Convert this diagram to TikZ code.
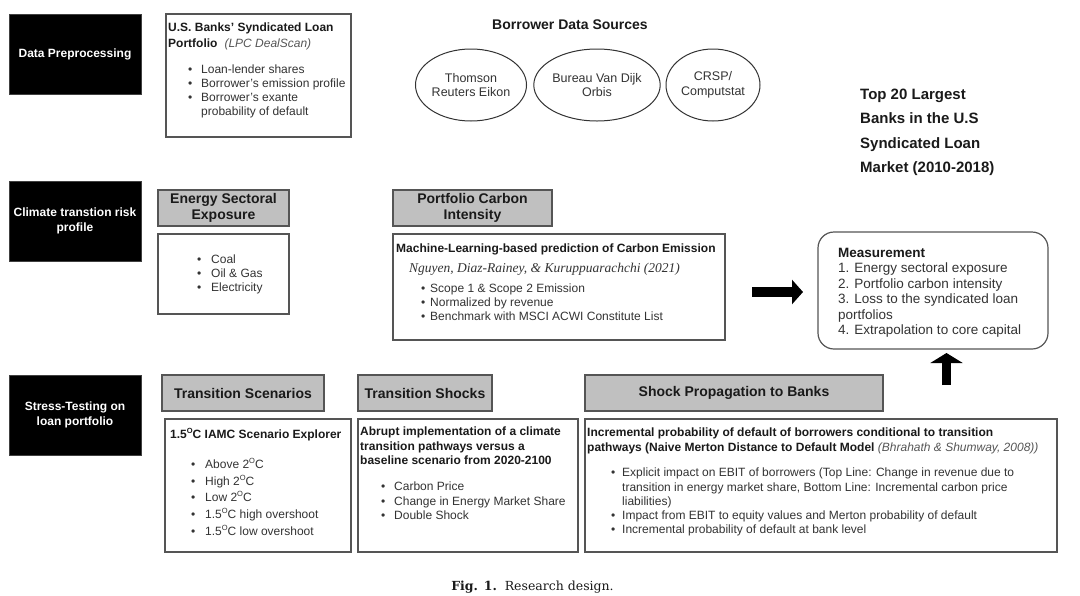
\documentclass[tikz,border=0pt]{standalone}
\usepackage{fontspec}
\setmainfont{Liberation Sans}
\newfontfamily\serifit{Liberation Serif}
\newfontfamily\capfont{DejaVu Serif}
\usetikzlibrary{shapes.geometric,arrows.meta}
\definecolor{bordc}{HTML}{555555}
\definecolor{grayfill}{HTML}{C0C0C0}
\definecolor{txt}{HTML}{333333}
\definecolor{ttl}{HTML}{1A1A1A}
\definecolor{itgray}{HTML}{555555}
\newcommand{\fs}[2]{\fontsize{#1}{#2}\selectfont}
\newcommand{\bi}[1]{\makebox[#1][l]{\textbullet}}
\newcommand{\bc}[1]{\hspace*{#1}}
\newcommand{\dgr}{\raisebox{0.42em}{\fontsize{7.5}{8}\selectfont O}}
\begin{document}
\begin{tikzpicture}[x=1pt,y=-1pt,
  blackbox/.style={fill=black, draw=black!75, line width=1pt, minimum width=132pt, minimum height=80pt, text=white, font=\bfseries\fs{12}{14.5}, align=center, inner sep=0pt},
  wbox/.style={draw=bordc, line width=1.2pt, fill=white, inner sep=0pt},
  gbox/.style={draw=bordc, line width=1.2pt, fill=grayfill, inner sep=0pt, font=\bfseries\fs{14}{16}, text=ttl, align=center},
  tnode/.style={inner sep=0pt, anchor=north west, align=left, text=txt, font=\fs{12}{14}},
  hnode/.style={inner sep=0pt, anchor=north west, align=left, text=ttl, font=\bfseries\fs{12}{14.5}},
  src/.style={ellipse, draw=black!80, line width=1pt, minimum width=94pt, minimum height=72pt, inner sep=0pt, align=center, font=\fs{12.5}{14.5}, text=txt},
  blockarrow/.style={line width=10pt, -{Triangle[width=24pt,length=11pt]}}
]
\useasboundingbox (0,0) rectangle (1080,595);
\fill[white] (0,0) rectangle (1080,595);

% row labels
\node[blackbox] (dp) at (75,54) {Data Preprocessing};
\node[blackbox] (ctr) at (75,221) {Climate transtion risk\\profile};
\node[blackbox] (st) at (75,415) {Stress-Testing on\\loan portfolio};

% US banks
\node[wbox, minimum width=185pt, minimum height=123pt] (usb) at (258.5,75.5) {};
\node[hnode, font=\bfseries\fs{12}{15.5}] (ust) at (168,23) {U.S. Banks' Syndicated Loan\\Portfolio\hspace{7pt}{\mdseries\itshape\color{itgray}(LPC DealScan)}};
\node[tnode] (usl) at (188,65) {\bi{13pt}Loan-lender shares\\\bi{13pt}Borrower's emission profile\\\bi{13pt}Borrower's exante\\\bc{13pt}probability of default};

% borrower data sources
\node[inner sep=0pt, anchor=base, font=\bfseries\fs{14}{16}, text=ttl] (bds) at (570,29) {Borrower Data Sources};
\node[src] (tre) at (471,85) {Thomson\\Reuters Eikon};
\node[src] (bvd) at (597,85) {Bureau Van Dijk\\Orbis};
\node[src] (crsp) at (713,85) {CRSP/\\Computstat};

% top 20
\node[inner sep=0pt, anchor=north west, align=left, text=ttl, font=\bfseries\fs{15}{24.3}] (top) at (860,89) {Top 20 Largest\\Banks in the U.S\\Syndicated Loan\\Market (2010-2018)};

% energy sectoral exposure
\node[gbox, minimum width=131pt, minimum height=36pt] (eseg) at (223.5,208) {Energy Sectoral\\Exposure};
\node[wbox, minimum width=131pt, minimum height=80pt] (eseb) at (223.5,274) {};
\node[tnode] (esel) at (197,255) {\bi{14pt}Coal\\\bi{14pt}Oil \& Gas\\\bi{14pt}Electricity};

% portfolio carbon intensity
\node[gbox, minimum width=159pt, minimum height=36pt] (pcig) at (472.5,208) {Portfolio Carbon\\Intensity};
\node[wbox, minimum width=332pt, minimum height=106pt] (pcib) at (559,287) {};
\node[hnode] (pcit) at (396,244) {Machine-Learning-based prediction of Carbon Emission};
\node[tnode, font=\serifit\itshape\fs{13.5}{15}] (pcic) at (409,263) {Nguyen, Diaz-Rainey, \& Kuruppuarachchi (2021)};
\node[tnode] (pcil) at (421,284) {\bi{9pt}Scope 1 \& Scope 2 Emission\\\bi{9pt}Normalized by revenue\\\bi{9pt}Benchmark with MSCI ACWI Constitute List};

% arrow right
\coordinate (ra1) at (752,292);
\coordinate (ra2) at (803,292);
\draw[blockarrow] (ra1) -- (ra2);

% measurement
\node[draw=bordc, line width=1.2pt, rounded corners=16pt, minimum width=230pt, minimum height=117pt, inner sep=0pt] (meas) at (933,290.5) {};
\node[tnode, font=\fs{13.5}{15.4}] (meast) at (838,248) {{\bfseries\color{ttl}Measurement}\\1. Energy sectoral exposure\\2. Portfolio carbon intensity\\3. Loss to the syndicated loan\\portfolios\\4. Extrapolation to core capital};

% arrow up
\coordinate (ua1) at (946.5,385);
\coordinate (ua2) at (946.5,353);
\draw[line width=9pt, -{Triangle[width=32pt,length=10pt]}] (ua1) -- (ua2);

% transition scenarios
\node[gbox, minimum width=162pt, minimum height=36pt] (tsg) at (243,393) {Transition Scenarios};
\node[wbox, minimum width=186pt, minimum height=133pt] (tsb) at (258,485.5) {};
\node[hnode] (tst) at (170,428) {1.5\dgr C IAMC Scenario Explorer};
\node[tnode, font=\fs{12}{16.7}] (tsl) at (191,458) {\bi{14pt}Above 2\dgr C\\\bi{14pt}High 2\dgr C\\\bi{14pt}Low 2\dgr C\\\bi{14pt}1.5\dgr C high overshoot\\\bi{14pt}1.5\dgr C low overshoot};

% transition shocks
\node[gbox, minimum width=134pt, minimum height=36pt] (tkg) at (425,393) {Transition Shocks};
\node[wbox, minimum width=220pt, minimum height=133pt] (tkb) at (468,485.5) {};
\node[hnode] (tkt) at (360,427) {Abrupt implementation of a climate\\transition pathways versus a\\baseline scenario from 2020-2100};
\node[tnode, font=\fs{12}{14.3}] (tkl) at (381,482) {\bi{13pt}Carbon Price\\\bi{13pt}Change in Energy Market Share\\\bi{13pt}Double Shock};

% shock propagation
\node[gbox, minimum width=298pt, minimum height=36pt] (spg) at (734,393) {Shock Propagation to Banks};
\node[wbox, minimum width=472pt, minimum height=133pt] (spb) at (821,485.5) {};
\node[hnode] (spt) at (587,428) {Incremental probability of default of borrowers conditional to transition\\pathways (Naive Merton Distance to Default Model {\mdseries\itshape\color{itgray}(Bhrahath \& Shumway, 2008))}};
\node[tnode, font=\fs{12}{14.2}] (spl) at (611,468) {\bi{11pt}Explicit impact on EBIT of borrowers (Top Line: Change in revenue due to\\\bc{11pt}transition in energy market share, Bottom Line: Incremental carbon price\\\bc{11pt}liabilities)\\\bi{11pt}Impact from EBIT to equity values and Merton probability of default\\\bi{11pt}Incremental probability of default at bank level};

% caption
\node[inner sep=0pt, anchor=base, font=\capfont\fs{12.5}{15}, text=ttl] (cap) at (532.5,590) {\textbf{Fig. 1.}\ \ Research design.};
\end{tikzpicture}
\end{document}
